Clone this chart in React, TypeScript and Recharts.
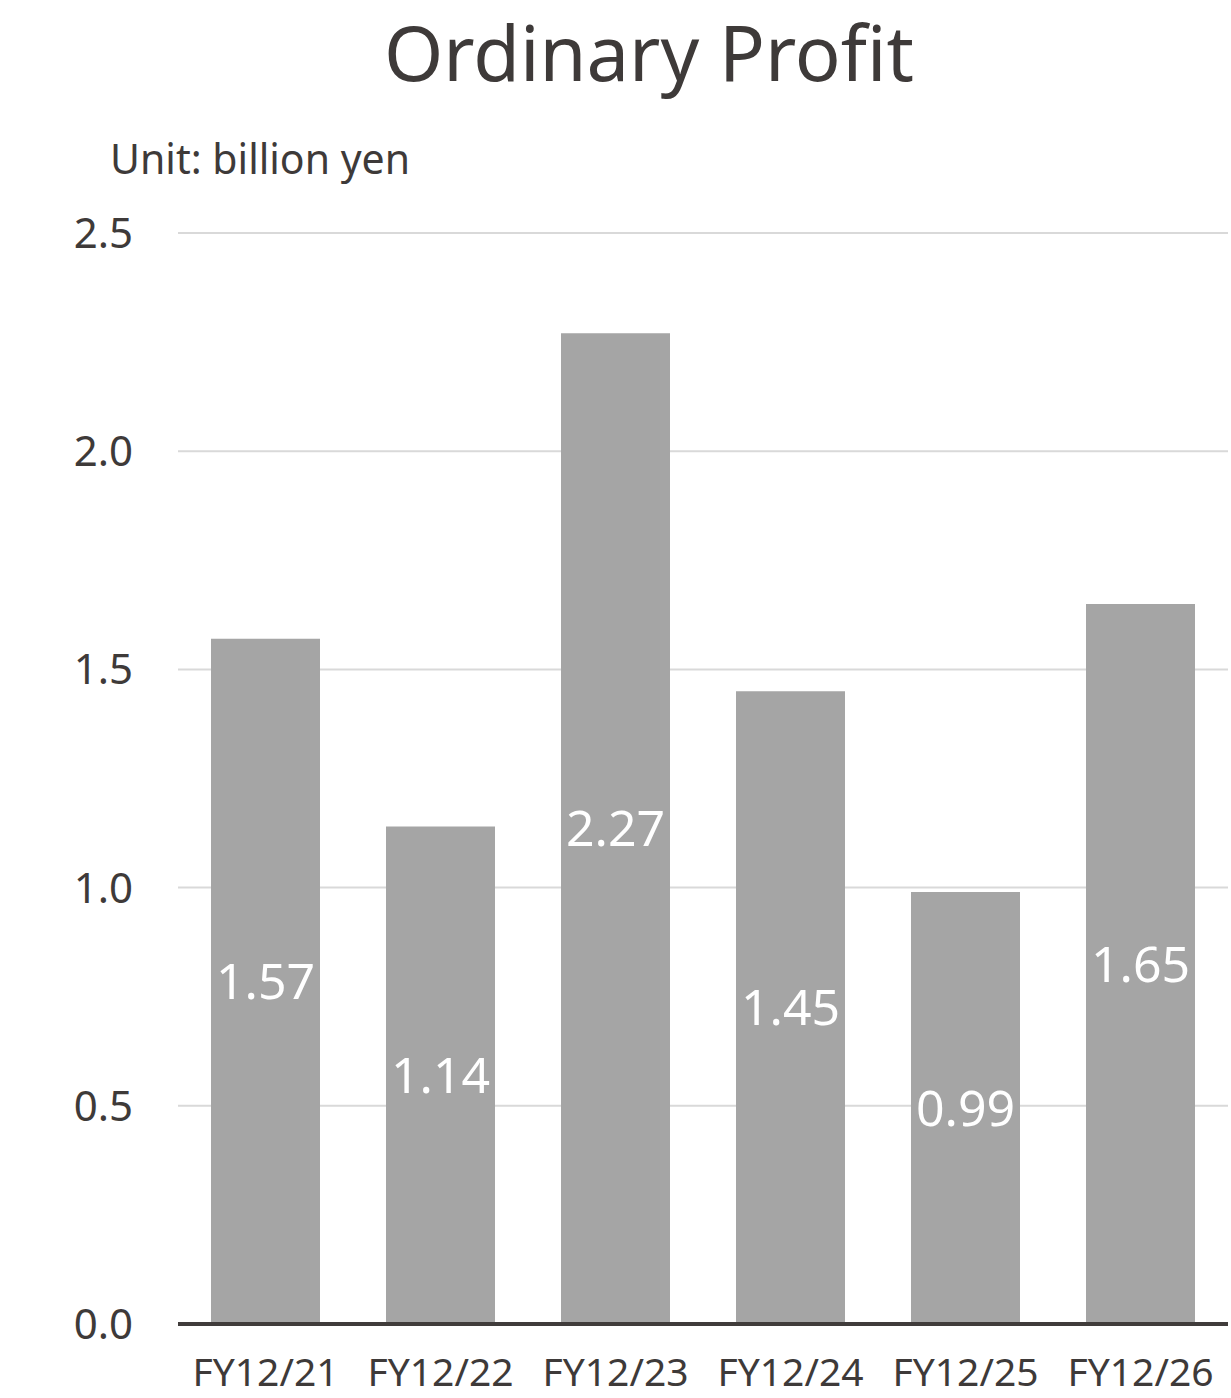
import { BarChart, Bar, XAxis, YAxis, CartesianGrid, LabelList } from 'recharts';

const YEARS = ['FY12/21', 'FY12/22', 'FY12/23', 'FY12/24', 'FY12/25', 'FY12/26'];
const PROFIT = [1.57, 1.14, 2.27, 1.45, 0.99, 1.65];
const Y_TICKS = [0, 0.5, 1.0, 1.5, 2.0, 2.5];

const data = YEARS.map((name, i) => ({ name, profit: PROFIT[i] }));

const FONT = '"Noto Sans", sans-serif';
const INK = '#3e3a39';

export default function App() {
  return (
    <div style={{ position: 'absolute', left: 0, top: 0, width: 1231, height: 1398, background: '#fff', fontFamily: FONT }}>
      <div style={{ position: 'absolute', left: 69, width: 1160, top: 0, textAlign: 'center', fontSize: 76, color: INK, lineHeight: 'normal' }}>
        Ordinary Profit
      </div>
      <div style={{ position: 'absolute', left: 110, top: 131, fontSize: 41, color: INK, lineHeight: '54px' }}>
        Unit: billion yen
      </div>
      <BarChart
        width={1231}
        height={1398}
        data={data}
        margin={{ top: 233, right: 3, left: 0, bottom: 0 }}
        barSize={109}
      >
        <CartesianGrid vertical={false} stroke="#d9d9d9" strokeWidth={2} />
        <XAxis
          dataKey="name"
          height={74}
          tickSize={0}
          tickMargin={34}
          axisLine={{ stroke: '#403c3b', strokeWidth: 4 }}
          tick={{ fill: INK, fontSize: 39, fontFamily: FONT }}
        />
        <YAxis
          width={178}
          domain={[0, 2.5]}
          ticks={Y_TICKS}
          tickFormatter={(v: number) => v.toFixed(1)}
          tickSize={0}
          tickMargin={45}
          axisLine={false}
          tick={{ fill: INK, fontSize: 42, fontFamily: FONT }}
        />
        <Bar dataKey="profit" fill="#a5a5a5" isAnimationActive={false}>
          <LabelList
            dataKey="profit"
            position="center"
            formatter={(v: any) => Number(v).toFixed(2)}
            style={{ fill: '#ffffff', fontSize: 50, fontFamily: FONT }}
          />
        </Bar>
      </BarChart>
    </div>
  );
}
